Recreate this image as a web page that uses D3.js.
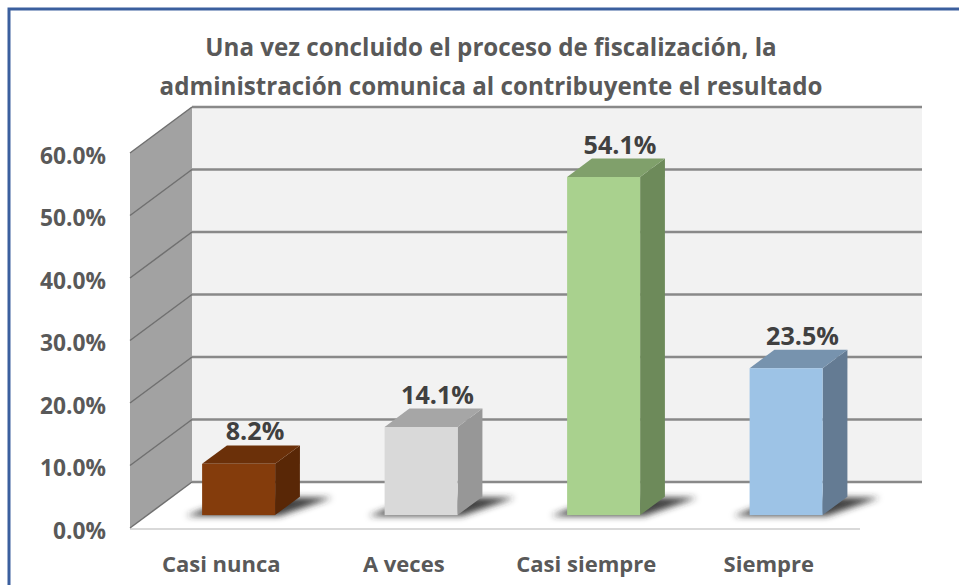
<!DOCTYPE html>
<html>
<head>
<meta charset="utf-8">
<script src="https://cdn.jsdelivr.net/npm/d3@7"></script>
<style>
  body { margin: 0; background: #fff; }
  svg { display: block; font-family: "Open Sans", sans-serif; }
</style>
</head>
<body>
<div id="chart"></div>
<script>
// data
const categories = ["Casi nunca", "A veces", "Casi siempre", "Siempre"];
const values = [0.082, 0.141, 0.541, 0.235];
const tickValues = [0, 0.1, 0.2, 0.3, 0.4, 0.5, 0.6];
const titleLines = [
  "Una vez concluido el proceso de fiscalización, la",
  "administración comunica al contribuyente el resultado"
];
// front, top, side colour for each bar
const barColors = [
  ["#843c0c", "#6b3009", "#592706"],
  ["#d9d9d9", "#a6a6a6", "#979797"],
  ["#a9d18e", "#80a06b", "#6d8a5a"],
  ["#9dc3e6", "#7793ae", "#647b93"]
];

const width = 959, height = 585;

// depth of the 3D box: back plane is shifted by (dx, -dy)
const depthDx = 62, depthDy = 46;
const P = (x, y, f) => [x + depthDx * f, y - depthDy * f];

// scales on the front plane
const x = d3.scaleBand()
  .domain(categories)
  .range([130, 860])
  .paddingInner(0.6)
  .paddingOuter(0.3);

const y = d3.scaleLinear()
  .domain([0, 0.6])
  .range([528, 153]);

const fmt = d3.format(".1%");

const svg = d3.select("#chart")
  .append("svg")
  .attr("width", width)
  .attr("height", height);

const defs = svg.append("defs");
defs.append("filter")
  .attr("id", "blur")
  .attr("x", "-30%").attr("y", "-50%")
  .attr("width", "160%").attr("height", "200%")
  .append("feGaussianBlur")
  .attr("stdDeviation", 3);

// outer frame (blue border, cut by the window at right and bottom)
svg.append("rect")
  .attr("x", 9).attr("y", 9)
  .attr("width", width + 20).attr("height", height + 20)
  .attr("fill", "#fff")
  .attr("stroke", "#3b5f9e")
  .attr("stroke-width", 3);

// font size that makes a sample string as wide as in the picture
function sizeFor(sample, target) {
  const t = svg.append("text")
    .attr("font-size", 20)
    .attr("font-weight", "bold")
    .text(sample);
  const w = t.node().getComputedTextLength();
  t.remove();
  return 20 * target / w;
}

const titleSize = sizeFor(titleLines[1], 663);
const tickSize = sizeFor("60.0%", 66);
const valueSize = sizeFor("54.1%", 73);
const catSize = sizeFor("Casi siempre", 140);

// title
svg.append("g")
  .attr("fill", "#595959")
  .attr("font-weight", "bold")
  .attr("text-anchor", "middle")
  .attr("font-size", titleSize)
  .selectAll("text")
  .data(titleLines)
  .join("text")
  .attr("x", 491)
  .attr("y", (d, i) => 56 + i * 39)
  .text(d => d);

const x0 = x.range()[0], x1 = x.range()[1];

// back wall
const backTop = P(0, y(0.6), 1)[1];
const backBottom = P(0, y(0), 1)[1];
svg.append("rect")
  .attr("x", P(x0, 0, 1)[0])
  .attr("y", backTop)
  .attr("width", x1 - x0)
  .attr("height", backBottom - backTop)
  .attr("fill", "#f2f2f2");

// side wall
const side = [
  [x0, y(0.6)], P(x0, y(0.6), 1), P(x0, y(0), 1), [x0, y(0)]
];
svg.append("path")
  .attr("d", d3.line()(side) + "Z")
  .attr("fill", "#a2a2a2");

// floor
const floor = [
  [x0, y(0)], P(x0, y(0), 1), P(x1, y(0), 1), [x1, y(0)]
];
svg.append("path")
  .attr("d", d3.line()(floor) + "Z")
  .attr("fill", "#fff");
svg.append("line")
  .attr("x1", x0).attr("x2", x1)
  .attr("y1", y(0) + 1).attr("y2", y(0) + 1)
  .attr("stroke", "#d9d9d9")
  .attr("stroke-width", 2);

// gridlines on back wall and side wall
const grid = svg.append("g");
grid.selectAll("line.back")
  .data(tickValues)
  .join("line")
  .attr("class", "back")
  .attr("x1", P(x0, 0, 1)[0])
  .attr("x2", P(x1, 0, 1)[0])
  .attr("y1", d => P(0, y(d), 1)[1])
  .attr("y2", d => P(0, y(d), 1)[1])
  .attr("stroke", "#898989")
  .attr("stroke-width", 2.5);
grid.selectAll("line.side")
  .data(tickValues)
  .join("line")
  .attr("class", "side")
  .attr("x1", x0)
  .attr("y1", d => y(d))
  .attr("x2", d => P(x0, y(d), 1)[0])
  .attr("y2", d => P(x0, y(d), 1)[1])
  .attr("stroke", "#707070")
  .attr("stroke-width", 1.5);

// y axis labels
svg.append("g")
  .attr("fill", "#595959")
  .attr("font-weight", "bold")
  .attr("text-anchor", "end")
  .attr("font-size", tickSize)
  .selectAll("text")
  .data(tickValues)
  .join("text")
  .attr("x", 106)
  .attr("y", d => y(d) + 3)
  .attr("dy", "0.35em")
  .text(fmt);

// bars as 3D boxes
const fFront = 0.28, fBack = 0.68;
const bars = categories.map((c, i) => {
  const left = x(c), right = x(c) + x.bandwidth();
  return {
    c, i, v: values[i],
    fl: P(left, y(0), fFront), fr: P(right, y(0), fFront),
    tl: P(left, y(values[i]), fFront), tr: P(right, y(values[i]), fFront),
    btl: P(left, y(values[i]), fBack), btr: P(right, y(values[i]), fBack),
    bbr: P(right, y(0), fBack), bbl: P(left, y(0), fBack)
  };
});

// shadows on the floor
svg.append("g")
  .attr("filter", "url(#blur)")
  .selectAll("path")
  .data(bars)
  .join("path")
  .attr("d", d => d3.line()([
    [d.fl[0] - 16, d.fl[1] + 1],
    [d.fr[0] + 4, d.fr[1] + 1],
    [d.bbr[0] + 32, d.bbr[1] + 1],
    [d.bbl[0] + 10, d.bbl[1]]
  ]) + "Z")
  .attr("fill", "#2b2b2b")
  .attr("opacity", 0.9);

const barG = svg.append("g")
  .selectAll("g")
  .data(bars)
  .join("g");

barG.append("path")
  .attr("d", d => d3.line()([d.tr, d.btr, d.bbr, d.fr]) + "Z")
  .attr("fill", d => barColors[d.i][2]);
barG.append("path")
  .attr("d", d => d3.line()([d.tl, d.btl, d.btr, d.tr]) + "Z")
  .attr("fill", d => barColors[d.i][1]);
barG.append("rect")
  .attr("x", d => d.fl[0])
  .attr("y", d => d.tl[1])
  .attr("width", x.bandwidth())
  .attr("height", d => d.fl[1] - d.tl[1])
  .attr("fill", d => barColors[d.i][0]);

// value labels
svg.append("g")
  .attr("fill", "#404040")
  .attr("font-weight", "bold")
  .attr("text-anchor", "middle")
  .attr("font-size", valueSize)
  .selectAll("text")
  .data(bars)
  .join("text")
  .attr("x", d => (d.tl[0] + d.btr[0]) / 2 + 4)
  .attr("y", d => d.btl[1] - 5)
  .text(d => fmt(d.v));

// category labels
svg.append("g")
  .attr("fill", "#595959")
  .attr("font-weight", "bold")
  .attr("text-anchor", "middle")
  .attr("font-size", catSize)
  .selectAll("text")
  .data(categories)
  .join("text")
  .attr("x", d => x(d) + x.bandwidth() / 2)
  .attr("y", 572)
  .text(d => d);
</script>
</body>
</html>
